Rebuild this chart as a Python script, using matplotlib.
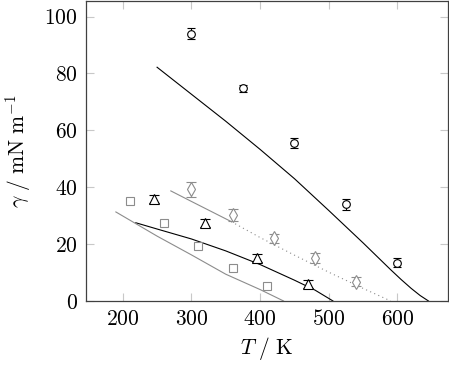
import matplotlib
matplotlib.use('Agg')
import matplotlib.pyplot as plt

plt.rcParams['font.family'] = 'serif'
plt.rcParams['font.serif'] = ['cmr10']
plt.rcParams['mathtext.fontset'] = 'cm'
plt.rcParams['axes.formatter.use_mathtext'] = True

# experimental points
circ_T = [300, 375, 450, 525, 600]
circ_g = [94.0, 74.8, 55.6, 34.0, 13.5]
circ_err = [2.0, 1.2, 1.8, 2.0, 1.6]

diam_T = [300, 360, 420, 480, 540]
diam_g = [39.2, 30.2, 22.0, 15.2, 6.8]
diam_err = [2.8, 2.2, 1.7, 1.7, 1.7]

tri_T = [245, 320, 395, 470]
tri_g = [35.9, 27.4, 15.1, 6.0]
tri_err = [1.5, 1.5, 1.5, 1.5]

sq_T = [210, 260, 310, 360, 410]
sq_g = [35.0, 27.3, 19.2, 11.6, 5.2]

# model curves
upper_T = [250, 300, 350, 400, 450, 500, 550, 590, 605, 620, 633, 645]
upper_g = [82.2, 72.7, 63.2, 53.3, 43.0, 31.8, 20.4, 11.0, 7.6, 4.4, 1.9, 0.0]

lower_T = [219, 250, 300, 350, 400, 450, 480, 506]
lower_g = [27.5, 25.3, 21.8, 17.6, 12.8, 7.3, 3.8, 0.0]

gray_T = [190, 250, 300, 350, 400, 434]
gray_g = [31.3, 22.8, 16.2, 9.4, 4.0, 0.0]

diam_line_T = [270, 300, 358]
diam_line_g = [38.7, 35.0, 27.9]

diam_dot_T = [358, 400, 450, 500, 550, 590]
diam_dot_g = [27.9, 22.3, 16.1, 10.1, 4.4, 0.0]

gray = '#8c8c8c'

fig = plt.figure(figsize=(4.49, 3.67), dpi=100)
ax = fig.add_axes([0.1915, 0.18, 0.807, 0.8173])

ax.plot(upper_T, upper_g, color='black', lw=0.8)
ax.plot(lower_T, lower_g, color='black', lw=0.8)
ax.plot(gray_T, gray_g, color=gray, lw=0.8)
ax.plot(diam_line_T, diam_line_g, color=gray, lw=0.8)
ax.plot(diam_dot_T, diam_dot_g, color=gray, lw=0.8, linestyle=(0, (1, 3)))

ax.errorbar(circ_T, circ_g, yerr=circ_err, fmt='o', ms=5.5, mfc='white', mec='black',
            mew=0.8, ecolor='black', elinewidth=0.8, capsize=3, capthick=0.8)
ax.errorbar(diam_T, diam_g, yerr=diam_err, fmt='d', ms=7.5, mfc='white', mec=gray,
            mew=0.8, ecolor=gray, elinewidth=0.8, capsize=3.5, capthick=0.8)
ax.errorbar(tri_T, tri_g, yerr=tri_err, fmt='^', ms=6.5, mfc='white', mec='black',
            mew=0.8, ecolor='black', elinewidth=0.8, capsize=3.5, capthick=0.8)
ax.plot(sq_T, sq_g, 's', ms=5.5, mfc='white', mec=gray, mew=0.8)

ax.set_xlim(146.5, 674)
ax.set_ylim(0, 105.5)
ax.set_xticks([200, 300, 400, 500, 600])
ax.set_yticks([0, 20, 40, 60, 80, 100])
ax.tick_params(direction='in', length=5.5, width=0.8, color='#c8c8c8',
               top=True, right=True, labelsize=15.5, pad=6)
for s in ax.spines.values():
    s.set_color('#404040')
    s.set_linewidth(0.9)

ax.set_xlabel(r'$T\ /\ \mathrm{K}$', fontsize=15.5, labelpad=4)
ax.set_ylabel(r'$\gamma\ /\ \mathrm{mN\ m^{-1}}$', fontsize=15.5, labelpad=8)

fig.savefig('out.png', dpi=100)
